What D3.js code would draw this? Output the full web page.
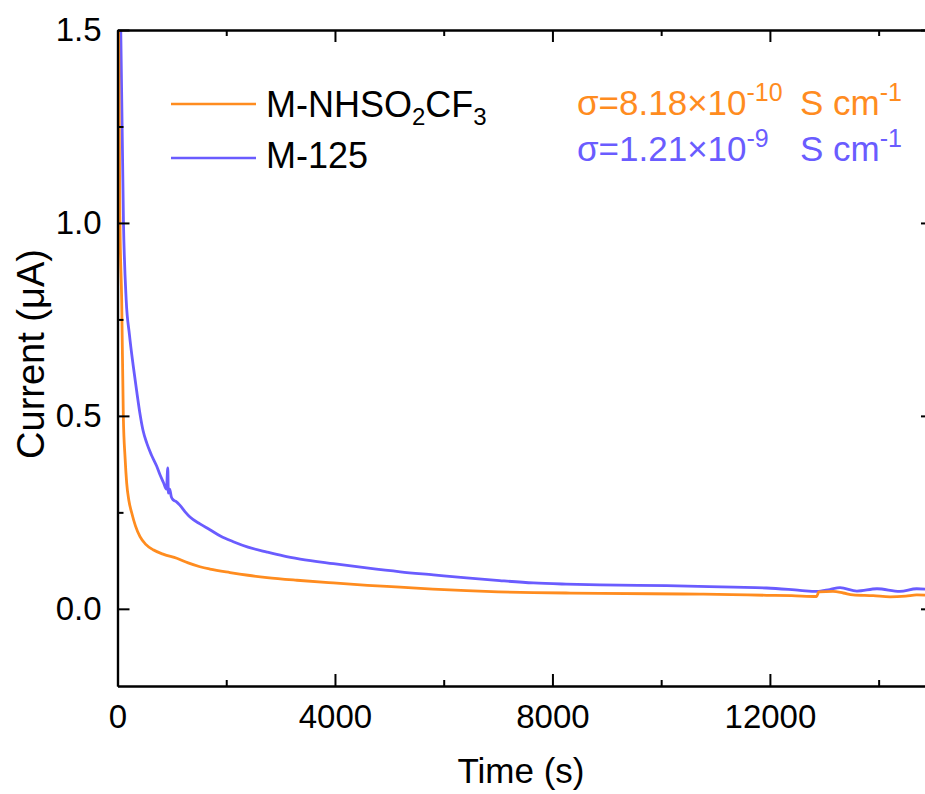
<!DOCTYPE html>
<html lang="en">
<head>
<meta charset="utf-8">
<title>Current vs time</title>
<script src="https://d3js.org/d3.v7.min.js"></script>
<style>
  body { margin: 0; background: #fff; }
  text { font-family: Arial, "Liberation Sans", sans-serif; fill: #000; }
</style>
</head>
<body>
<script>
// series: M-NHSO2CF3 (orange)
var timeA = [0, 20, 45, 77, 107, 140, 169, 210, 261, 330, 414, 520, 655, 850, 1090, 1300, 1517, 1700, 2070, 2400, 2750, 3300, 3970, 4600, 5200, 5800, 6420, 7000, 7650, 8250, 8870, 9800, 10710, 11300, 11940, 12400, 12860, 12900, 13160, 13350, 13530, 13900, 14210, 14500, 14700, 15000];
var currentA = [2.5, 1.5, 1.0, 0.80, 0.50, 0.39, 0.326, 0.28, 0.249, 0.215, 0.187, 0.167, 0.153, 0.141, 0.131, 0.119, 0.109, 0.103, 0.094, 0.087, 0.081, 0.074, 0.067, 0.061, 0.056, 0.051, 0.047, 0.044, 0.042, 0.041, 0.040, 0.039, 0.038, 0.037, 0.035, 0.034, 0.032, 0.044, 0.045, 0.041, 0.036, 0.034, 0.031, 0.033, 0.036, 0.034];

// series: M-125 (blue)
var timeB = [0, 60, 110, 160, 220, 291, 350, 414, 470, 537, 620, 720, 780, 843, 900, 925, 935, 960, 990, 1027, 1080, 1150, 1240, 1333, 1517, 1700, 1900, 2130, 2400, 2750, 3050, 3360, 3970, 4580, 5200, 5810, 6420, 7030, 7650, 8250, 8870, 10100, 11330, 11940, 12550, 12860, 13100, 13290, 13600, 13970, 14390, 14700, 15000];
var currentB = [2.5, 1.5, 1.0, 0.80, 0.71, 0.628, 0.567, 0.505, 0.462, 0.43, 0.40, 0.370, 0.348, 0.328, 0.31, 0.365, 0.30, 0.31, 0.29, 0.282, 0.278, 0.268, 0.252, 0.238, 0.220, 0.205, 0.188, 0.174, 0.160, 0.147, 0.137, 0.129, 0.117, 0.106, 0.096, 0.088, 0.080, 0.073, 0.067, 0.064, 0.062, 0.060, 0.056, 0.054, 0.048, 0.045, 0.050, 0.055, 0.046, 0.052, 0.045, 0.052, 0.049];

var seriesNames = ["M-NHSO2CF3", "M-125"];
var seriesColors = ["#FF8C1F", "#6A5CFF"];

var xTicks = [0, 4000, 8000, 12000];
var xMinor = [2000, 6000, 10000, 14000];
var yTicks = [0.0, 0.5, 1.0, 1.5];
var yMinor = [0.25, 0.75, 1.25];

var w = 925, h = 794;
var plotLeft = 117.5, plotRight = 933, plotTop = 30, plotBottom = 686;

var x = d3.scaleLinear().domain([0, 15000]).range([plotLeft, plotRight]);
var y = d3.scaleLinear().domain([-0.2, 1.5]).range([plotBottom, plotTop]);

var svg = d3.select("body").append("svg").attr("width", w).attr("height", h);

svg.append("clipPath").attr("id", "plot")
  .append("rect").attr("x", plotLeft).attr("y", plotTop).attr("width", plotRight - plotLeft).attr("height", plotBottom - plotTop);

// data lines
var line = d3.line().curve(d3.curveMonotoneX)
  .x(function(d) { return x(d[0]); }).y(function(d) { return y(d[1]); });
var dataA = d3.zip(timeA, currentA);
var dataB = d3.zip(timeB, currentB);

svg.append("path").datum(dataB).attr("d", line).attr("clip-path", "url(#plot)")
  .attr("fill", "none").attr("stroke", seriesColors[1]).attr("stroke-width", 2.8).attr("stroke-linejoin", "round");
svg.append("path").datum(dataA).attr("d", line).attr("clip-path", "url(#plot)")
  .attr("fill", "none").attr("stroke", seriesColors[0]).attr("stroke-width", 2.8).attr("stroke-linejoin", "round");

// axes (ticks inward)
function styleAxis(g) {
  g.selectAll("path").attr("stroke-width", 2.2);
  g.selectAll("line").attr("stroke-width", 2);
}
var bottomAxis = d3.axisBottom(x).tickValues(xTicks).tickSizeInner(-12).tickSizeOuter(0).tickPadding(19).tickFormat(d3.format("d"));
var bottomMinor = d3.axisBottom(x).tickValues(xMinor).tickSizeInner(-6).tickSizeOuter(0).tickFormat("");
var leftAxis = d3.axisLeft(y).tickValues(yTicks).tickSizeInner(-12).tickSizeOuter(0).tickPadding(16).tickFormat(d3.format(".1f"));
var leftMinor = d3.axisLeft(y).tickValues(yMinor).tickSizeInner(-6).tickSizeOuter(0).tickFormat("");
var topAxis = d3.axisTop(x).tickValues(xTicks).tickSizeInner(-12).tickSizeOuter(0).tickFormat("");
var topMinor = d3.axisTop(x).tickValues(xMinor).tickSizeInner(-6).tickSizeOuter(0).tickFormat("");
var rightAxis = d3.axisRight(y).tickValues(yTicks).tickSizeInner(-12).tickSizeOuter(0).tickFormat("");
var rightMinor = d3.axisRight(y).tickValues(yMinor).tickSizeInner(-6).tickSizeOuter(0).tickFormat("");

var gb = svg.append("g").attr("transform", "translate(0," + plotBottom + ")");
gb.call(bottomAxis); gb.append("g").call(bottomMinor);
var gl = svg.append("g").attr("transform", "translate(" + plotLeft + ",0)");
gl.call(leftAxis); gl.append("g").call(leftMinor);
var gt = svg.append("g").attr("transform", "translate(0," + plotTop + ")");
gt.call(topAxis); gt.append("g").call(topMinor);
var gr = svg.append("g").attr("transform", "translate(" + plotRight + ",0)");
gr.call(rightAxis); gr.append("g").call(rightMinor);
[gb, gl, gt, gr].forEach(function(g) { styleAxis(g); });

svg.selectAll(".tick text").attr("font-size", 33).attr("font-family", "Arial, 'Liberation Sans', sans-serif").attr("fill", "#000");

// axis titles
svg.append("text").attr("x", 521).attr("y", 783).attr("text-anchor", "middle")
  .attr("font-size", 35).text("Time (s)");
svg.append("text").attr("transform", "translate(44,354) rotate(-90)")
  .attr("text-anchor", "middle").attr("font-size", 38).text("Current (\u03bcA)");

// legend
var legY = [104, 158];
seriesNames.forEach(function(name, i) {
  svg.append("line").attr("x1", 171).attr("x2", 256).attr("y1", legY[i]).attr("y2", legY[i])
    .attr("stroke", seriesColors[i]).attr("stroke-width", 2.6);
});
var t1 = svg.append("text").attr("x", 266).attr("y", 117).attr("font-size", 36);
t1.append("tspan").text("M-NHSO");
t1.append("tspan").attr("font-size", 24).attr("dy", 8).text("2");
t1.append("tspan").attr("dy", -8).text("CF");
t1.append("tspan").attr("font-size", 24).attr("dy", 8).text("3");
svg.append("text").attr("x", 266).attr("y", 168).attr("font-size", 36).text("M-125");

// conductivity annotations
var sigmaMant = ["\u03c3=8.18\u00d710", "\u03c3=1.21\u00d710"];
var sigmaExp = ["-10", "-9"];
var annY = [115, 161];
sigmaMant.forEach(function(m, i) {
  var t = svg.append("text").attr("x", 577).attr("y", annY[i]).attr("font-size", 35).attr("fill", seriesColors[i]);
  t.append("tspan").attr("fill", seriesColors[i]).text(m);
  t.append("tspan").attr("fill", seriesColors[i]).attr("font-size", 25).attr("dy", -14).text(sigmaExp[i]);
  t.append("tspan").attr("fill", seriesColors[i]).attr("x", 800).attr("dy", 14).text("S cm");
  t.append("tspan").attr("fill", seriesColors[i]).attr("font-size", 25).attr("dy", -14).text("-1");
});
</script>
</body>
</html>
